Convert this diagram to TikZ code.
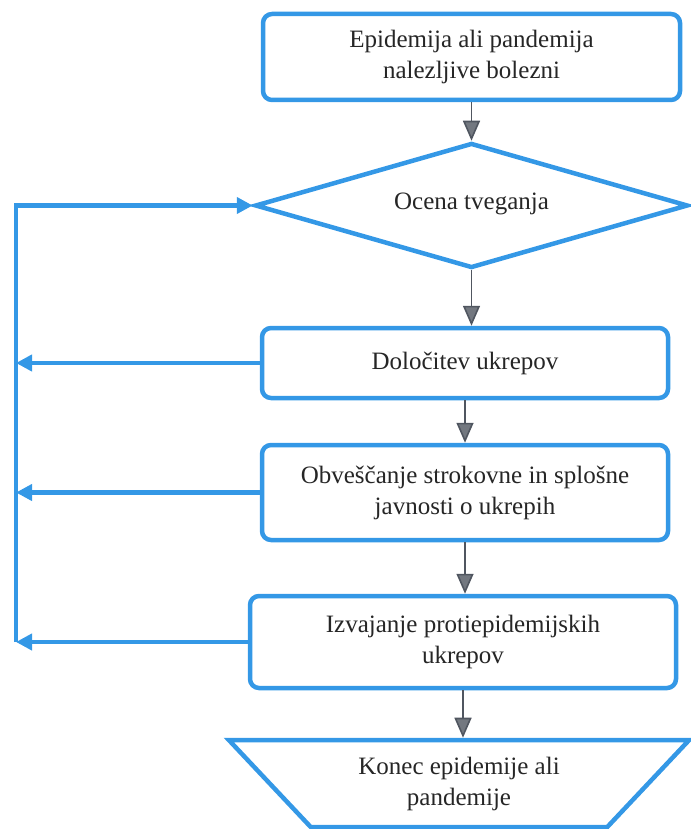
\documentclass[tikz,border=0pt]{standalone}
\usepackage{fontspec}
\setmainfont{Liberation Serif}
\newfontfamily\flowfont{Liberation Serif}
\usetikzlibrary{shapes.geometric,arrows.meta}
\definecolor{flowblue}{RGB}{52,152,230}
\definecolor{arrowgray}{RGB}{80,86,96}
\begin{document}
\begin{tikzpicture}[x=1pt,y=-1pt,
  box/.style={draw=flowblue,line width=4.5pt,rounded corners=9pt,fill=white,align=center,
    font=\flowfont\fontsize{25}{31}\selectfont,text=black!85,inner sep=0pt},
  down/.style={draw=arrowgray,line width=1.6pt,-{Triangle[length=20pt,width=17pt,fill=arrowgray!80]}},
  back/.style={draw=flowblue,line width=4.5pt,-{Triangle[length=16pt,width=16pt]}}]
\useasboundingbox (0,0) rectangle (690,829);

\node[box,minimum width=417pt,minimum height=86pt] (start) at (471.5,57)
  {Epidemija ali pandemija\\nalezljive bolezni};
\node[diamond,aspect=3.46,draw=flowblue,line width=4.5pt,inner sep=0pt,minimum width=433pt,minimum height=125pt,
  font=\flowfont\fontsize{25}{31}\selectfont,text=black!85] (risk) at (471.5,205.5) {\raisebox{9pt}{Ocena tveganja}};
\node[box,minimum width=406pt,minimum height=70pt] (measures) at (465,363) {Določitev ukrepov};
\node[box,minimum width=406pt,minimum height=95pt] (inform) at (465,492.5)
  {Obveščanje strokovne in splošne\\javnosti o ukrepih};
\node[box,minimum width=426pt,minimum height=92pt] (act) at (463,642)
  {Izvajanje protiepidemijskih\\ukrepov};
\node[trapezium,shape border rotate=180,trapezium left angle=44,trapezium right angle=44,
  trapezium stretches=true,draw=flowblue,line width=4.5pt,inner sep=0pt,
  minimum width=462pt,minimum height=87pt,align=center,
  font=\flowfont\fontsize{25}{31}\selectfont,text=black!85] (finish) at (459,783.5)
  {Konec epidemije ali\\pandemije};

% main flow
\draw[down] (start.south) -- (start.south |- risk.north);
\draw[down] (risk.south) -- (risk.south |- measures.north);
\draw[down] (measures.south) -- (measures.south |- inform.north);
\draw[down] (inform.south) -- (inform.south |- act.north);
\draw[down] (act.south) -- (act.south |- finish.north);

% feedback loop
\coordinate (top) at (16,205.5);
\coordinate (bottom) at (16,642);
\draw[back,line join=miter] (bottom) -- (top) -- (risk.west);
\draw[back] (measures.west) -- (measures.west -| top);
\draw[back] (inform.west) -- (inform.west -| top);
\draw[back] (act.west) -- (act.west -| top);
\end{tikzpicture}
\end{document}
